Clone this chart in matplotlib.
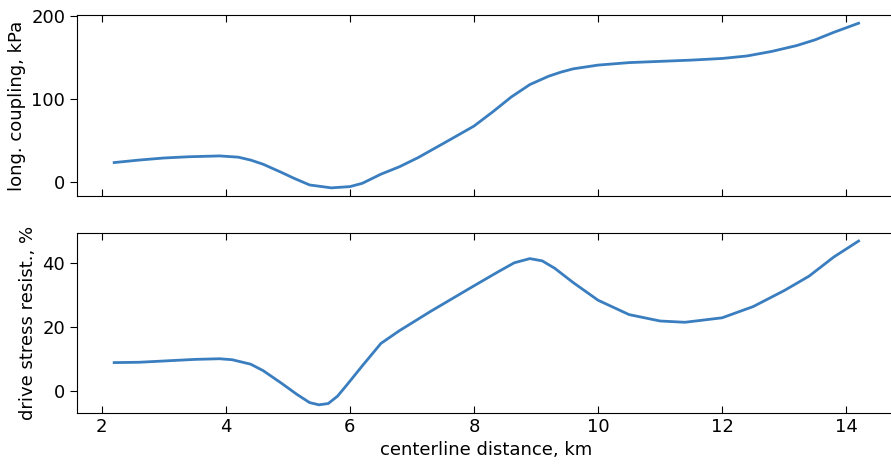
import matplotlib.pyplot as plt

# centerline distance, km
dist_top = [2.2, 2.6, 3.0, 3.4, 3.9, 4.2, 4.4, 4.6, 4.9, 5.1, 5.35, 5.7, 6.0, 6.2, 6.5,
            6.8, 7.1, 7.6, 8.0, 8.3, 8.6, 8.9, 9.2, 9.4, 9.6, 10.0, 10.5, 11.0, 11.5,
            12.0, 12.4, 12.8, 13.2, 13.5, 13.8, 14.2]
coupling = [23, 26, 28.5, 30, 31, 29.5, 26, 21, 11, 4, -4, -7.5, -6, -2, 9,
            18, 29, 50, 67, 84, 102, 117, 127, 132, 136, 140.5, 143.5, 145, 146.5,
            148.5, 151.5, 157, 164, 171, 180, 191]

dist_bot = [2.2, 2.6, 3.0, 3.5, 3.9, 4.1, 4.4, 4.6, 4.9, 5.15, 5.35, 5.5, 5.65, 5.8,
            5.95, 6.2, 6.5, 6.8, 7.3, 8.0, 8.4, 8.65, 8.9, 9.1, 9.3, 9.6, 10.0, 10.5,
            11.0, 11.4, 12.0, 12.5, 13.0, 13.4, 13.8, 14.2]
resist = [9, 9.1, 9.5, 10, 10.2, 9.9, 8.5, 6.5, 2.5, -1, -3.5, -4.2, -3.8, -1.5,
          2, 8, 15, 19, 25, 33, 37.5, 40.2, 41.5, 40.8, 38.5, 34, 28.5, 24, 22,
          21.6, 23, 26.5, 31.5, 36, 42, 47]

color = '#3a7ebf'

fig = plt.figure(figsize=(8.91, 4.68), dpi=100)
ax1 = fig.add_axes([0.0864, 0.581, 0.919, 0.387])
ax2 = fig.add_axes([0.0864, 0.1175, 0.919, 0.385], sharex=ax1)

ax1.plot(dist_top, coupling, color=color, lw=2)
ax2.plot(dist_bot, resist, color=color, lw=2)

ax1.set_ylabel('long. coupling, kPa', fontsize=13)
ax2.set_ylabel('drive stress resist., %', fontsize=13)
ax2.set_xlabel('centerline distance, km', fontsize=13)

ax1.set_yticks([0, 100, 200])
ax2.set_yticks([0, 20, 40])
ax2.set_xticks([2, 4, 6, 8, 10, 12, 14])

for ax in (ax1, ax2):
    ax.tick_params(axis='x', direction='in', top=True, length=5, labelsize=13)
    ax.tick_params(axis='y', direction='out', length=5, labelsize=13)
    ax.spines['right'].set_visible(False)
ax1.tick_params(axis='x', labelbottom=False)

fig.savefig('out.png', dpi=100)
